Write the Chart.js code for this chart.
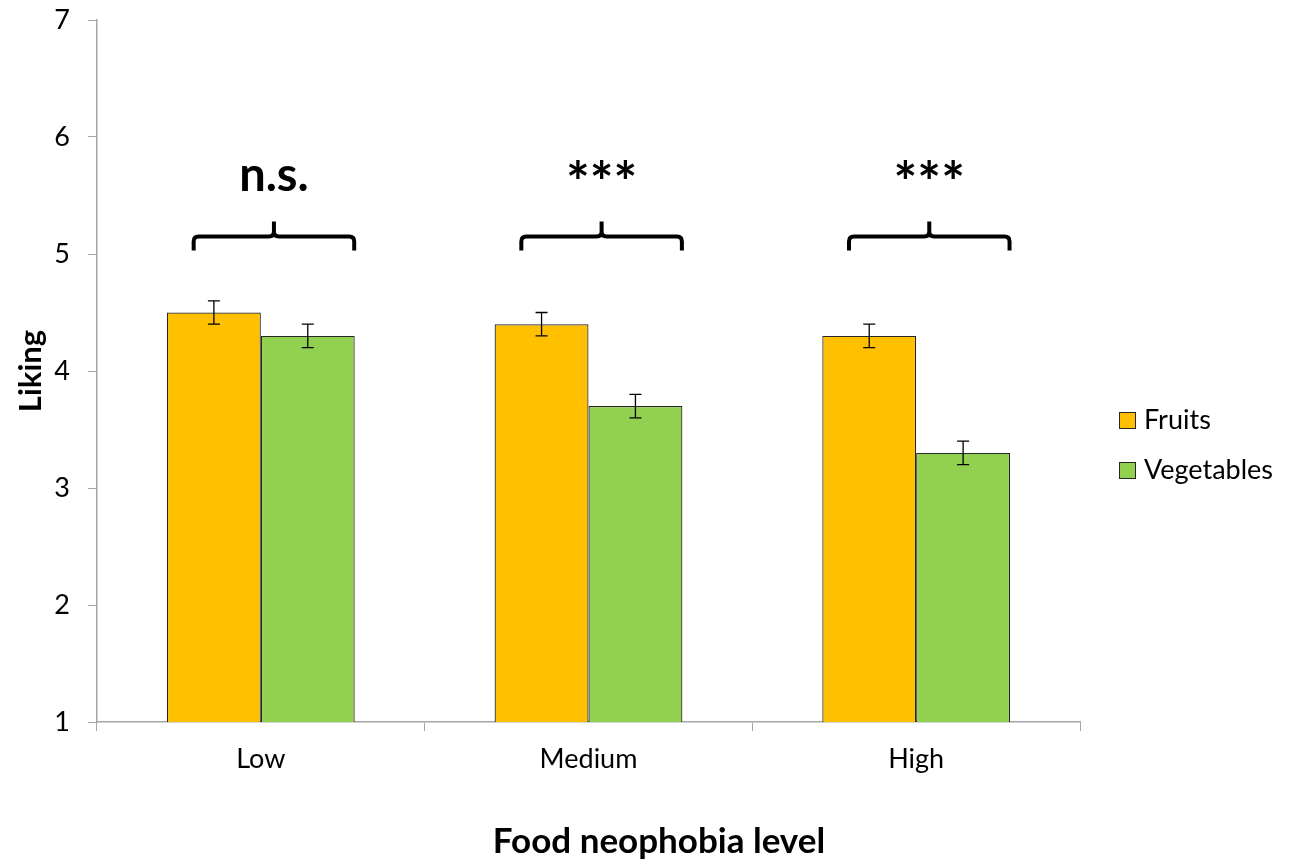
<!DOCTYPE html>
<html>
<head>
<meta charset="utf-8">
<script src="https://cdn.jsdelivr.net/npm/chart.js@4.4.1/dist/chart.umd.min.js"></script>
<style>
  html, body { margin: 0; padding: 0; background: #fff; }
  #wrap { width: 1295px; height: 867px; }
</style>
</head>
<body>
<div id="wrap"><canvas id="chart" width="1295" height="867"></canvas></div>
<script>
// data
const categories = ["Low", "Medium", "High"];
const fruits = [4.5, 4.4, 4.3];
const vegetables = [4.3, 3.7, 3.3];
const fruitsErr = [0.1, 0.1, 0.1];
const vegetablesErr = [0.1, 0.1, 0.1];
const significance = ["n.s.", "***", "***"];
const bracketLevel = 5.15;
const yMin = 1;
const yMax = 7;

const FONT = "Lato, 'Open Sans', sans-serif";
const AXIS_GREY = "#a6a6a6";

// error bars, drawn over each bar from the err arrays
const errorBars = {
  id: "errorBars",
  afterDatasetsDraw(chart) {
    const ctx = chart.ctx;
    const y = chart.scales.y;
    const errs = [fruitsErr, vegetablesErr];
    chart.data.datasets.forEach((ds, di) => {
      chart.getDatasetMeta(di).data.forEach((bar, i) => {
        const top = y.getPixelForValue(ds.data[i] + errs[di][i]);
        const bot = y.getPixelForValue(ds.data[i] - errs[di][i]);
        ctx.save();
        ctx.strokeStyle = "#000";
        ctx.lineWidth = 1.3;
        ctx.beginPath();
        ctx.moveTo(bar.x, top); ctx.lineTo(bar.x, bot);
        ctx.moveTo(bar.x - 6, top); ctx.lineTo(bar.x + 6, top);
        ctx.moveTo(bar.x - 6, bot); ctx.lineTo(bar.x + 6, bot);
        ctx.stroke();
        ctx.restore();
      });
    });
  }
};

// curly brackets + significance labels above each group
const brackets = {
  id: "brackets",
  afterDatasetsDraw(chart) {
    const ctx = chart.ctx;
    const x = chart.scales.x, y = chart.scales.y;
    const catW = (x.right - x.left) / categories.length;
    const yb = y.getPixelForValue(bracketLevel);
    categories.forEach((c, i) => {
      const cx = x.getPixelForValue(i);
      const L = cx - 0.205 * catW;
      const R = cx + 0.285 * catW;
      const M = (L + R) / 2;
      const r = 5;
      ctx.save();
      ctx.strokeStyle = "#000";
      ctx.lineWidth = 4;
      ctx.lineCap = "butt";
      ctx.beginPath();
      ctx.moveTo(L, yb + 14);
      ctx.lineTo(L, yb + r);
      ctx.quadraticCurveTo(L, yb, L + r, yb);
      ctx.lineTo(M - r, yb);
      ctx.quadraticCurveTo(M, yb, M, yb - r);
      ctx.lineTo(M, yb - 15);
      ctx.moveTo(M, yb - r);
      ctx.quadraticCurveTo(M, yb, M + r, yb);
      ctx.lineTo(R - r, yb);
      ctx.quadraticCurveTo(R, yb, R, yb + r);
      ctx.lineTo(R, yb + 14);
      ctx.stroke();

      const stars = significance[i].startsWith("*");
      ctx.fillStyle = "#000";
      ctx.font = "bold " + (stars ? 56 : 47) + "px " + FONT;
      ctx.textAlign = "center";
      ctx.textBaseline = "alphabetic";
      ctx.fillText(significance[i], M, stars ? yb - 34 : yb - 45);
      ctx.restore();
    });
  }
};

// legend at the right and x axis title, placed like the original
const sideParts = {
  id: "sideParts",
  afterDraw(chart) {
    const ctx = chart.ctx;
    const area = chart.chartArea;
    ctx.save();
    chart.data.datasets.forEach((ds, i) => {
      const yc = 420 + i * 50;
      const bx = area.right + 39;
      ctx.fillStyle = ds.backgroundColor;
      ctx.fillRect(bx, yc - 8, 17, 17);
      ctx.strokeStyle = "#262626";
      ctx.lineWidth = 1;
      ctx.strokeRect(bx + 0.5, yc - 7.5, 16, 16);
      ctx.fillStyle = "#000";
      ctx.font = "27px " + FONT;
      ctx.textAlign = "left";
      ctx.textBaseline = "middle";
      ctx.fillText(ds.label, bx + 25, yc);
    });
    ctx.font = "bold 35px " + FONT;
    ctx.textAlign = "center";
    ctx.textBaseline = "middle";
    ctx.fillStyle = "#000";
    ctx.fillText("Food neophobia level", 659, 842);
    ctx.restore();
  }
};

new Chart(document.getElementById("chart").getContext("2d"), {
  type: "bar",
  data: {
    labels: categories,
    datasets: [
      {
        label: "Fruits",
        data: fruits,
        backgroundColor: "#ffc000",
        borderColor: "#262626",
        borderWidth: 1.2,
        categoryPercentage: 0.573,
        barPercentage: 1,
      },
      {
        label: "Vegetables",
        data: vegetables,
        backgroundColor: "#92d050",
        borderColor: "#262626",
        borderWidth: 1.2,
        categoryPercentage: 0.573,
        barPercentage: 1,
      },
    ],
  },
  options: {
    responsive: false,
    animation: false,
    layout: { padding: { top: 20, right: 215, left: 0, bottom: 0 } },
    plugins: {
      legend: { display: false },
      tooltip: { enabled: false },
    },
    scales: {
      x: {
        grid: {
          offset: true,
          drawOnChartArea: false,
          drawTicks: true,
          tickLength: 9,
          color: AXIS_GREY,
        },
        border: { color: AXIS_GREY, width: 1.5 },
        ticks: { color: "#000", font: { family: FONT, size: 27 }, padding: 12 },
        afterFit(scale) { scale.height = 145; },
      },
      y: {
        min: yMin,
        max: yMax,
        ticks: { stepSize: 1, color: "#000", font: { family: FONT, size: 27 }, padding: 18 },
        grid: {
          drawOnChartArea: false,
          drawTicks: true,
          tickLength: 9,
          color: AXIS_GREY,
        },
        border: { color: AXIS_GREY, width: 1.5 },
        title: {
          display: true,
          text: "Liking",
          color: "#000",
          font: { family: FONT, size: 31, weight: "bold" },
          padding: { top: 12, bottom: 0 },
        },
        afterFit(scale) {
          scale.width = 97;
          scale.paddingTop = 0;
          scale.paddingBottom = 0;
        },
      },
    },
  },
  plugins: [errorBars, brackets, sideParts],
});
</script>
</body>
</html>
